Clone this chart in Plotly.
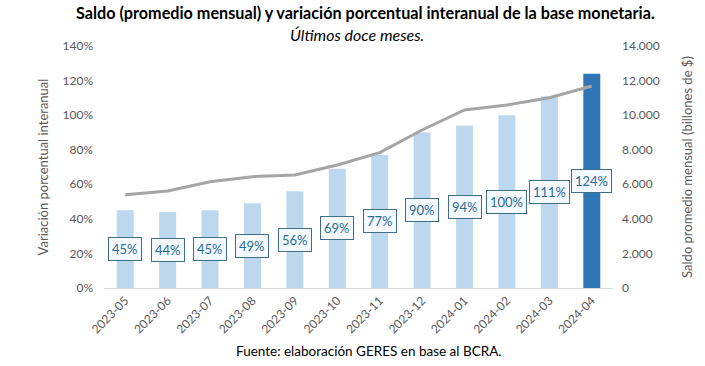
import plotly.graph_objects as go

months = ["2023-05", "2023-06", "2023-07", "2023-08", "2023-09", "2023-10",
          "2023-11", "2023-12", "2024-01", "2024-02", "2024-03", "2024-04"]
variacion_pct = [45, 44, 45, 49, 56, 69, 77, 90, 94, 100, 111, 124]
saldo_billones = [5390, 5610, 6150, 6440, 6540, 7120, 7830, 9140, 10300, 10590, 11010, 11690]

left_tickvals = [0, 20, 40, 60, 80, 100, 120, 140]
left_ticktext = ["0%", "20%", "40%", "60%", "80%", "100%", "120%", "140%"]
right_tickvals = [0, 2000, 4000, 6000, 8000, 10000, 12000, 14000]
right_ticktext = ["0", "2.000", "4.000", "6.000", "8.000", "10.000", "12.000", "14.000"]

FONT = "Lato"
light = "#BDD7EE"
dark = "#2E75B6"
bar_colors = [light] * (len(months) - 1) + [dark]

fig = go.Figure()
fig.add_trace(go.Bar(x=months, y=variacion_pct, marker=dict(color=bar_colors, line=dict(width=0)),
                     width=0.4, yaxis="y", hoverinfo="x+y"))
fig.add_trace(go.Scatter(x=months, y=saldo_billones, mode="lines", yaxis="y2",
                         line=dict(color="#A5A5A5", width=3)))

for m, v in zip(months, variacion_pct):
    fig.add_annotation(x=m, y=v / 2, xref="x", yref="y", text=f"{v}%", showarrow=False,
                       font=dict(family=FONT, size=13, color="#2A6A98"),
                       bgcolor="#F4F9FD", bordercolor="#3F6E86", borderwidth=1, borderpad=3)

fig.update_layout(
    width=705, height=366,
    margin=dict(l=104, r=84, t=46, b=78),
    paper_bgcolor="white", plot_bgcolor="white",
    showlegend=False,
    bargap=0.6,
    font=dict(family=FONT, color="#595959", size=12),
    xaxis=dict(type="category", tickangle=-45, tickfont=dict(size=12, color="#595959"),
               showgrid=False, showline=True, linecolor="#D9D9D9", linewidth=1, ticks=""),
    yaxis=dict(range=[0, 140], tickvals=left_tickvals, ticktext=left_ticktext, showgrid=False,
               zeroline=False, tickfont=dict(size=12, color="#595959"), ticklabelstandoff=10,
               title=dict(text="Variación porcentual interanual", font=dict(size=13, color="#595959"), standoff=10)),
    yaxis2=dict(range=[0, 14000], tickvals=right_tickvals, ticktext=right_ticktext, overlaying="y",
                side="right", showgrid=False, zeroline=False, tickfont=dict(size=12, color="#595959"),
                ticklabelstandoff=8,
                title=dict(text="Saldo promedio mensual (billones de $)", font=dict(size=13, color="#595959"), standoff=24)),
)

fig.add_annotation(text="<b>Saldo (promedio mensual) y variación porcentual interanual de la base monetaria.</b>",
                   xref="paper", yref="paper", x=(370 - 104) / 517, y=1, yshift=34, showarrow=False,
                   font=dict(family=FONT, size=16.2, color="#000000"), xanchor="center", yanchor="middle")
fig.add_annotation(text="<i>Últimos doce meses.</i>",
                   xref="paper", yref="paper", x=(361 - 104) / 517, y=1, yshift=12, showarrow=False,
                   font=dict(family=FONT, size=16, color="#000000"), xanchor="center", yanchor="middle")
fig.add_annotation(text="Fuente: elaboración GERES en base al BCRA.",
                   xref="paper", yref="paper", x=(373 - 104) / 517, y=0, yshift=-63, showarrow=False,
                   font=dict(family=FONT, size=13.5, color="#000000"), xanchor="center", yanchor="middle")

fig.write_html("out.html", config={"displayModeBar": False},
               post_script="document.body.style.margin='0';")
